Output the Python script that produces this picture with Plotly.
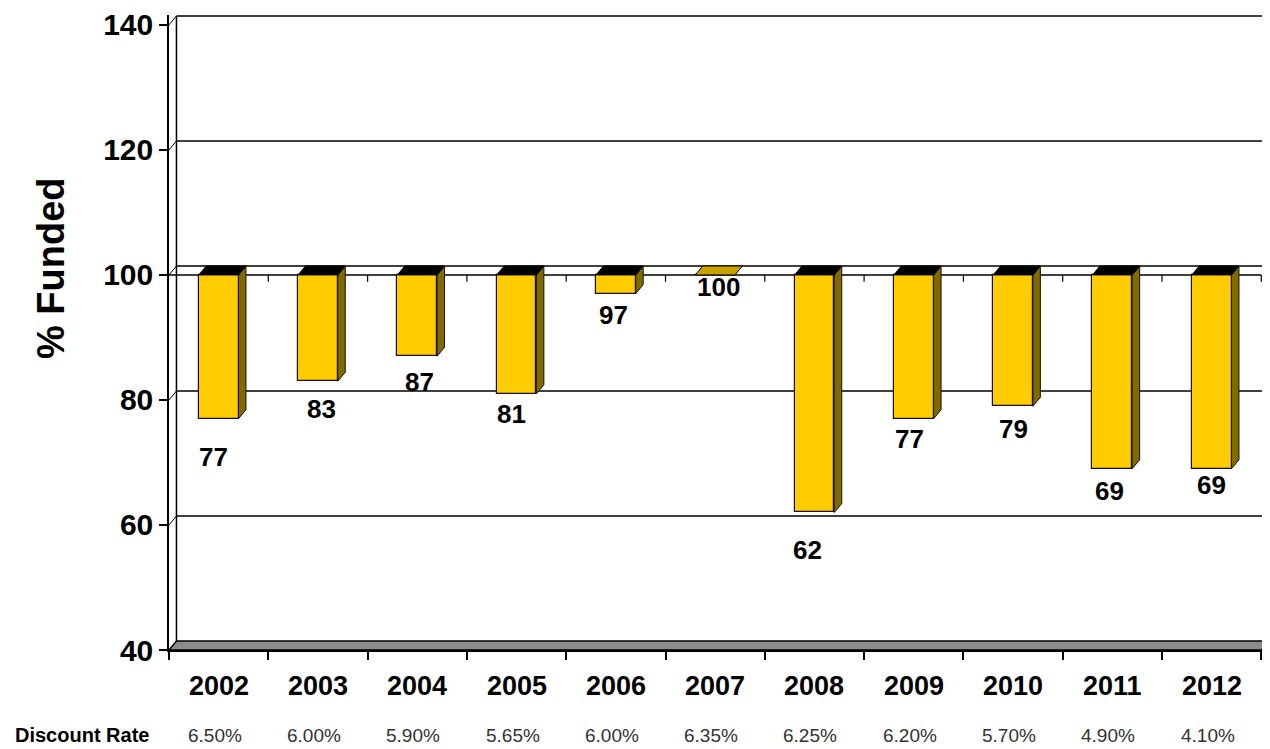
import plotly.graph_objects as go

# --- data ---
years = ['2002', '2003', '2004', '2005', '2006', '2007', '2008', '2009', '2010', '2011', '2012']
pct_funded = [77, 83, 87, 81, 97, 100, 62, 77, 79, 69, 69]
discount_rates = ['6.50%', '6.00%', '5.90%', '5.65%', '6.00%', '6.35%', '6.25%', '6.20%', '5.70%', '4.90%', '4.10%']
y_ticks = [40, 60, 80, 100, 120, 140]

# --- styling ---
FONT = "Arial, 'Liberation Sans', sans-serif"
GOLD = '#FFCC00'
SIDE = '#7F6A00'
FLOOR = '#8C8C8C'
BASE = 100          # bars hang from the 100% line
BAR_W = 0.40
DX, DY = 0.075, 1.43   # fake 3D depth (x in categories, y in % units)

# manual label nudges (px) like in the original chart
label_dy = [38, 28, 26, 20, 21, 12, 38, 20, 23, 22, 16]
label_dx = [-5, 4, 2, -5, -2, 3, -7, -4, 0, -3, 0]

n = len(years)
centers = [i + 0.5 for i in range(n)]

fig = go.Figure()

# front faces
fig.add_trace(go.Bar(
    x=centers, y=[v - BASE for v in pct_funded], base=BASE, width=BAR_W,
    marker=dict(color=GOLD, line=dict(color='#1a1200', width=1.2)),
    hoverinfo='skip', showlegend=False,
))

# side and top faces
for c, v in zip(centers, pct_funded):
    x0, x1 = c - BAR_W / 2, c + BAR_W / 2
    if v < BASE:
        fig.add_trace(go.Scatter(
            x=[x1, x1 + DX, x1 + DX, x1, x1], y=[BASE, BASE + DY, v + DY, v, BASE],
            mode='lines', fill='toself', fillcolor=SIDE,
            line=dict(color='#1a1200', width=1), hoverinfo='skip', showlegend=False))
    top_col = 'black' if v < BASE else '#C9A000'
    fig.add_trace(go.Scatter(
        x=[x0, x1, x1 + DX, x0 + DX, x0], y=[BASE, BASE, BASE + DY, BASE + DY, BASE],
        mode='lines', fill='toself', fillcolor=top_col,
        line=dict(color='black', width=1), hoverinfo='skip', showlegend=False))

shapes = []
line_k = dict(color='black', width=1.5)
# floor
shapes.append(dict(type='path', xref='x', yref='y', layer='below',
                   path=f'M0,40 L{n},40 L{n + DX},{40 + DY} L{DX},{40 + DY} Z',
                   fillcolor=FLOOR, line=dict(color='black', width=1.5)))
# back wall gridlines + side-wall connectors
for t in y_ticks[1:]:
    shapes.append(dict(type='line', xref='x', yref='y', layer='below',
                       x0=DX, x1=n + DX, y0=t + DY, y1=t + DY, line=line_k))
    shapes.append(dict(type='line', xref='x', yref='y', layer='below',
                       x0=0, x1=DX, y0=t, y1=t + DY, line=dict(color='black', width=1)))
# back wall verticals
for xv in (DX, n + DX):
    shapes.append(dict(type='line', xref='x', yref='y', layer='below',
                       x0=xv, x1=xv, y0=40 + DY, y1=y_ticks[-1] + DY, line=line_k))
# front category line at 100 with its ticks
shapes.append(dict(type='line', xref='x', yref='y', layer='below',
                   x0=0, x1=n, y0=BASE, y1=BASE, line=line_k))
for k in range(1, n + 1):
    shapes.append(dict(type='line', xref='x', yref='y', layer='below',
                       x0=k, x1=k, y0=BASE, y1=BASE - 1.1, line=dict(color='black', width=1.2)))

annotations = []
for c, v, dy, dx in zip(centers, pct_funded, label_dy, label_dx):
    annotations.append(dict(x=c, y=v, xref='x', yref='y', text=f'<b>{v}</b>',
                            showarrow=False, yanchor='middle', yshift=-dy, xshift=dx,
                            font=dict(family=FONT, size=26, color='black')))
for c, yr, dr in zip(centers, years, discount_rates):
    annotations.append(dict(x=c, y=0, xref='x', yref='paper', text=f'<b>{yr}</b>',
                            showarrow=False, yanchor='middle', yshift=-36,
                            font=dict(family=FONT, size=27, color='black')))
    annotations.append(dict(x=c, y=0, xref='x', yref='paper', text=dr,
                            showarrow=False, yanchor='middle', yshift=-85, xshift=-4,
                            font=dict(family=FONT, size=19, color='#333333')))

# page has an 8px body margin, so the figure is sized/placed to compensate
OFF = 8
W, H = 1270 - OFF, 749 - OFF
L, R, T, B = 169 - OFF, 0, 10 - OFF, 99
pw, ph = W - L - R, H - T - B

annotations.append(dict(x=(82 - OFF - L) / pw, y=0, xref='paper', yref='paper',
                        text='<b>Discount Rate</b>', showarrow=False, yanchor='middle',
                        xanchor='center', yshift=-85,
                        font=dict(family=FONT, size=20, color='black')))
annotations.append(dict(x=(28 - OFF - L) / pw, y=(H - B - (265 - OFF)) / ph,
                        xref='paper', yref='paper', text='<b>% Funded</b>', showarrow=False,
                        textangle=-90, font=dict(family=FONT, size=38, color='black')))

x_unit = 99.3
y_unit = 6.3

fig.update_layout(
    width=W, height=H,
    margin=dict(l=L, r=R, t=T, b=B),
    plot_bgcolor='white', paper_bgcolor='white',
    shapes=shapes, annotations=annotations,
    showlegend=False, bargap=0,
    xaxis=dict(range=[0, pw / x_unit], tickvals=list(range(n + 1)), ticks='outside',
               ticklen=8, tickwidth=1.5, tickcolor='black', showticklabels=False,
               showgrid=False, zeroline=False, showline=True, linecolor='black', linewidth=1.5),
    yaxis=dict(range=[40, 40 + ph / y_unit], tickvals=y_ticks, ticks='outside',
               ticklen=8, tickwidth=1.5, tickcolor='black',
               tickfont=dict(family=FONT, size=30, color='black'),
               ticktext=[f'<b>{t}</b>' for t in y_ticks], ticklabeloverflow='allow',
               showgrid=False, zeroline=False, showline=True, linecolor='black', linewidth=1.5),
)

fig.write_html("out.html")
